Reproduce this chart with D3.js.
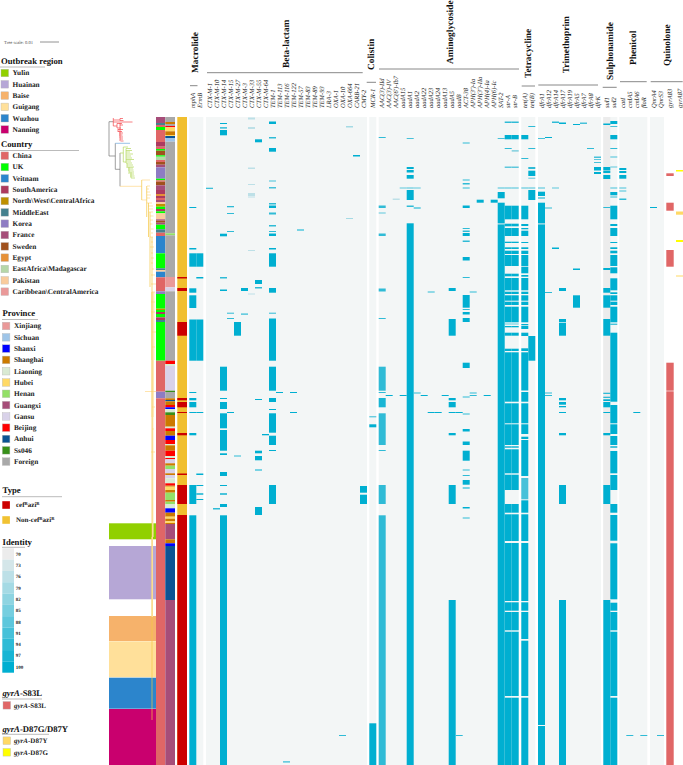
<!DOCTYPE html>
<html><head><meta charset="utf-8">
<script src="https://cdn.jsdelivr.net/npm/d3@7/dist/d3.min.js"></script>
<style>html,body{margin:0;padding:0;background:#fff}svg{display:block}text{font-family:"Liberation Serif",serif;text-rendering:geometricPrecision}</style>
</head><body><svg id="c" width="683" height="765"></svg>
<script>
// ---------- DATA: each gene = list of [firstRow,lastRow,(identity)] in tree order ----------
const mphA=[[90,91],[131,132.5],[136.3,149.7],[171.3,175.7],[178.3,191],[202.5,243.7],[275,276],[281,283.3],[285,290.3],[295,296],[316,318.3],[368,387],[398.3,648]];
const ErmB=[[136.3,149.7],[160,161.5],[202.5,243.7],[295,296],[356.5,358],[368,369],[376.3,377.7],[382,383]];
const CTXM1=[[70.7,72,92]],CTXM10=[[391,392.5,94]];
const CTXM14=[[6,7],[10.3,11.5],[13,18.3],[116.7,119.3],[160,161.5,94],[172.5,174],[249.7,273.7],[281,282],[285,292],[296.3,311.3],[313,333.7],[336.3,338],[355,359],[368,369],[376.3,377.7],[387,390],[398.3,648]];
const CTXM15=[[89,90.3,94],[96,97,94],[114,115,94],[195.7,196.7,94],[201,202,94],[295,296]];
const CTXM27=[[205,218.7],[338.5,339.5,94]];
const CTXM3=[[171,174],[196.5,197.7,94]];
const CTXM33=[[0.5,2.5,76],[10,12,76],[50.5,52,76],[67,68,76],[76,79,76],[79.5,80.5,76],[133,134,76],[176.5,177.5,76]];
const CTXM55=[[22.3,25.3],[163,167],[170,171.5,94],[282,283],[333.7,336.3],[339,343.3],[352.5,353.5],[390,398]];
const CTXM64=[[317,318.3]];
const TEM1=[[4.5,7],[20,21.5,94],[31,34.7],[63.5,64.5,91],[70,71.5,91],[86,87.5,94],[88.5,91],[95.5,97.5,94],[108,109.5,94],[114,115,94],[116.5,119],[131,132.5],[136.3,149.7],[171,175.7],[195.7,196.7,94],[201.5,243.7],[249.7,273.7],[281,285],[292,293],[296.3,315.7],[318.7,328],[333,334],[368,387]];
const TEM113=[[275,276]],TEM116=[[644.3,645.5,94]],TEM122=[[275,276],[295,296]],TEM57=[[112.5,113.5]];
const TEM83=[],TEM89=[],TEM93=[],LRA3=[],OXA1=[];
const OXA10=[[618,619,94]],OXA664=[[9,10.5,79],[101,102,79]],CARB21=[[38,39.5]],CMY2=[[369,375.7],[377.7,387]];
const MCR1=[[299.3,300.3,94],[307.3,310.3],[606.3,648]];
const AAC3IId=[[20,21,94],[88.5,91,94],[95.5,96.5,88],[116.5,119,94],[171.5,174.5,94],[201,202,94],[249.7,273.7,94],[275,276,94],[281,290.3,97],[296.3,328,94],[333,334,94],[368,387,94],[398.3,648,94]];
const AAC3IV=[[278,279]],AAC6Ib7=[[81.5,83,76]],aadA15=[[70.5,71.5,88],[278,279]];
const aadA1=[[21,22,91],[50,52],[53,55.5],[58,61.7],[70.5,71.5,91],[73,83],[88.5,90,94],[106.3,648]];
const aadA2=[[70.5,71.5,88],[90.5,91.5],[275.5,276.5,94]],aadA22=[[278,279]],aadA23=[[174.5,175.5,94],[295,296]],aadA24=[[295,296]],aadA13=[[278,279]];
const aadA5=[[171,174],[202,218.7],[281,283.3],[285,290.3],[295,296],[316,318.3],[368,387],[483,648]];
const aadB=[[295,296],[618,619,94]];
const ACT38=[[25.5,26.5,94],[62.5,63.5,94],[66,67.5,94],[70.5,71.5,94],[88.5,91],[111,112,94],[113.5,115,94],[116,119],[123.5,125,94],[140,143.5],[160,161,94],[178,190.7],[192,193,94],[195,197.5],[201,205],[245.7,251],[279.5,280.5,94],[296.5,297.5,94],[312,314.5],[324.5,328],[333.7,343.7],[352.5,353.5,94],[358,359,94],[363,367.7],[370.5,371.5],[390,391.5],[400.5,401.5,94]];
const APH3Ia=[[174.5,175.5,94],[275.5,276.5,94],[278,279,94]],APH3IIa=[[82.7,85.7]],APH4Ia=[[278,279]],APH6Ic=[[82.7,85.7]];
const SAT2=[[21,22,91],[70.5,71.5,91],[75,81.3],[85.7,106],[106,107.5,82],[107.5,648]];
const strA=[[4.5,6,94],[18,22.3],[31,32,94],[49.5,51,88],[70.5,71.5,91],[88.7,102.3],[106.7,109.3],[111,119],[124.7,126],[130.3,132],[133.7,137],[138,149],[156.7,159.3],[161,173.3],[174.7,177],[178.3,183.7],[184.7,188],[189.7,205.3],[206.7,207.3],[209,210.3],[215.7,218.7],[231.7,234],[235.3,284.7],[286.3,306.3],[307.3,328],[329.3,330.7],[332.3,356.3],[357.7,373],[387,395.7],[397.3,424],[426,484],[485.3,493.7],[495,513.3],[514.7,579],[580.7,648]];
const strB=[[4.5,6,94],[18,22.3],[33,34.7,82],[49.5,51,88],[70.5,71.5,91],[88.7,102.3],[106.7,109.3],[111,119],[124.7,126],[130.3,132],[133.7,137],[138,149],[156.7,159.3],[161,173.3],[174.7,177],[178.3,183.7],[184.7,188],[189.7,205.3],[206.7,207.3],[209,210.3],[215.7,218.7],[231.7,234],[235.3,284.7],[286.3,306.3],[307.3,328],[329.3,330.7],[332.3,356.3],[357.7,373],[387,395.7],[397.3,424],[426,484],[485.3,493.7],[495,513.3],[514.7,579],[580.7,648]];
const tetA=[[18,22.3],[41,42,94],[70.5,71.5,91],[88.7,102.3],[107,109],[111,112.3],[113.7,119],[125,126],[130.3,132],[133.7,137],[138,149],[149.7,156.3],[158,159.7],[161,173.3],[174.7,177],[178.3,183.7],[184.7,188],[189.7,205.3],[207,208.3],[209,212],[215.7,219],[231.3,234],[235.3,273.5],[275,284.7],[286.3,306.3],[307.3,317],[319.7,322],[323,359],[361,382.3,91],[383.3,395.7],[397.3,424],[426,484],[485.3,493.7],[495,522],[523.7,579],[580.7,648]];
const tetB=[[9,10,94],[31,32,94],[50,52,94],[53.7,59],[60.7,61.7,88],[70.5,71.5,91],[73,83],[219,243.7]];
const dfrA1=[[21,22,91],[70.5,71.5,91],[74.7,79],[80.5,81.5],[85.7,106],[106,107.5,82],[107.5,608],[609,648]];
const dfrA12=[[20,21],[90.5,91.5,94],[175,176,94],[275.5,276.5,94],[278,279,94]];
const dfrA14=[[4.5,6,94],[70.5,71.5,88],[130.5,132]];
const dfrA17=[[5.5,7],[171,174],[202,205],[205.7,218.7],[281,283.3],[285,287.7],[289,290.3],[295,296],[316,318.3],[368,387],[483,648]];
const dfrA19=[],dfrA5=[[7,8],[151.5,153],[178.3,190.7]],dfrA7=[[5.5,7,91]],dfrA8=[[31,32,94]];
const dfrK=[[39.5,41,91],[42,43,88],[45,46,91],[50,53.5],[55,57]];
const sul1=[[0,483,70],[6.5,8],[50,53],[53.5,56],[58,62],[90,91,94],[151,153],[171,175.7],[178.3,190.7],[202,218.7],[275.7,277,94],[279.7,281,94],[282.3,284],[285,290.3],[295,296],[316,318.3],[368,387],[483,648]];
const sul2=[[4,7],[9,10,91],[18,22.3],[31,32,94],[39.5,40.5,91],[49.5,50.5,88],[70.5,71.5,91],[75,78.3],[79.5,80.5,94],[88.7,102.3],[107,109],[111,119],[125,126],[130.3,132],[133.7,136.3],[138,149],[150.3,156.3],[161.3,173.3],[175.3,177],[178.3,183.7],[184.7,188],[189.7,205.3],[206.7,207.7],[215.7,284.7],[288,306.3],[307.3,317],[319,328],[329.3,330.7],[334,356.3],[358,373],[387,395.7],[398,423.7],[426.3,482.3],[485.7,493.7],[495,513.3],[514.7,579],[580.7,648]];
const catI=[[51,53],[54,56],[58,61.7],[70.5,71.5,91],[73.5,74.5,91],[81.5,83,94]],cmlA5=[[618,619,94]],cmlA6=[[295,296]],floR=[[618,619,94]];
const QnrA4=[[90,91]],QnrS3=[[618,619,94]];
const gyrA83=[[56.3,59],[85.7,93.7],[133,149.7],[245.7,273.7],[274.3,648]];
const gyrA87G=[[53,54.5],[123,125]],gyrA87Y=[[94.5,97.7],[158.5,159.5]];

const typeRed=[[160,161.5],[171,174],[205,218.7],[281,283.3],[285,290.3],[295,296],[316,318.3],[356.5,358],[368,387],[398,648]];
const regionBlocks=[[406.3,422.3,'Yulin'],[429,482.3,'Huainan'],[499,524,'Baise'],[524.3,560.3,'Guigang'],[560.7,591.7,'Wuzhou'],[592,648,'Nanning']];
const countryRuns=[[6,'France'],[8,'MiddleEast'],[10,'China'],[13,'UK'],[25,'China'],[29.7,'SouthAmerica'],[32,'China'],[33.7,'UK'],[38.3,'Sweden'],[39.7,'UK'],[43,'EastAfrica\\Madagascar'],[45,'China'],[47.7,'Sweden'],[50.3,'France'],[61.7,'Korea'],[63.3,'UK'],[64.7,'China'],[68.3,'Sweden'],[73,'France'],[77,'SouthAmerica'],[79,'Egypt'],[81,'SouthAmerica'],[83,'China'],[85,'France'],[87,'Pakistan'],[89.7,'North\\West\\CentralAfrica'],[92,'UK'],[94.3,'SouthAmerica'],[96.3,'UK'],[102.3,'Pakistan'],[103.7,'France'],[105.7,'Sweden'],[107.7,'France'],[112.3,'UK'],[115.7,'MiddleEast'],[119,'China'],[136.3,'Veitnam'],[151.3,'UK'],[153,'MiddleEast'],[154.7,'Pakistan'],[160.3,'Veitnam'],[174.3,'China'],[177,'Korea'],[191.7,'UK'],[193,'North\\West\\CentralAfrica'],[195,'UK'],[197,'SouthAmerica'],[200.3,'UK'],[203,'SouthAmerica'],[205,'MiddleEast'],[243.7,'UK'],[274.7,'China'],[281.3,'Korea'],[648,'China']];
const provinceRuns=[[5,'Foreign'],[7,'Shanghai'],[9,'Foreign'],[10.3,'Beijing'],[14.3,'Hubei'],[18,'Shanghai'],[19,'Hubei'],[21,'Anhui'],[24.7,'Sichuan'],[116.3,'Foreign'],[118.3,'Henan'],[160,'Foreign'],[170.3,'Xinjiang'],[174.3,'Gansu'],[243.7,'Foreign'],[247,'Beijing'],[249,'Liaoning'],[273.7,'Gansu'],[275,'Ss046'],[281.3,'Foreign'],[283,'Shanghai'],[284.3,'Anhui'],[288,'Shanghai'],[290.3,'Beijing'],[292,'Shanxi'],[295.3,'Liaoning'],[298,'Ss046'],[309.7,'Shanghai'],[311.3,'Liaoning'],[314,'Beijing'],[318.7,'Shanghai'],[323,'Shanxi'],[327,'Beijing'],[328.3,'Liaoning'],[333.7,'Shanghai'],[339,'Beijing'],[341,'Liaoning'],[342.3,'Beijing'],[346.3,'Gansu'],[348.7,'Shanghai'],[352,'Henan'],[356.3,'Gansu'],[358,'Shanghai'],[361.3,'Gansu'],[366.3,'Liaoning'],[368.7,'Beijing'],[369.7,'Shanghai'],[373,'Hubei'],[375.7,'Shanghai'],[383,'Henan'],[384.7,'Shanghai'],[387,'Henan'],[391.3,'Liaoning'],[395.7,'Shanxi'],[399.7,'Shanghai'],[401.7,'Hubei'],[404.3,'Shanghai'],[406,'Hubei'],[407,'Shanghai'],[422.3,'Guangxi'],[426.3,'Shanghai'],[429,'Shanxi'],[483,'Anhui'],[648,'Guangxi']];

const regionNames=['Yulin','Huainan','Baise','Guigang','Wuzhou','Nanning'];
const regionColors=['#91d000','#b6a7d6','#f6b26b','#ffe09a','#2c85cc','#c9006e'];
const countryNames=['China','UK','Veitnam','SouthAmerica','North\\West\\CentralAfrica','MiddleEast','Korea','France','Sweden','Egypt','EastAfrica\\Madagascar','Pakistan','Caribbean\\CentralAmerica'];
const countryColors=['#e06666','#00ff00','#2b85cd','#ad3a5f','#bf9000','#45818e','#8e7cc3','#a64d79','#a0511d','#e69138','#b6d7a8','#f9cb9c','#ea9999'];
const provinceNames=['Xinjiang','Sichuan','Shanxi','Shanghai','Liaoning','Hubei','Henan','Guangxi','Gansu','Beijing','Anhui','Ss046','Foreign'];
const provinceColors=['#ea9999','#9fc5e8','#0000ff','#cc7a00','#d9ead3','#ffd966','#93e067','#a64d79','#d9d2e9','#ff0000','#0b5394','#38901a','#a9a9a9'];
const identityTicks=[70,73,76,79,82,85,88,91,94,97,100];

// Tree: horizontal branches [depth0,depth1,row], vertical [depth,row0,row1]
const treeRootH=[[0,4.3,4.7],[0,6.3,39],[6.3,11,52.3]];
const treeRootV=[[0,4.7,39],[6.3,26.3,52.3],[11,36,69.3]];
const treeBlueH=[[6.3,21,26.3]];
const treeRedH=[[4.3,23.5,5],[4.3,11,3],[11,14,1.5],[11,14.5,3.5],[4.3,8,9],[8,13,6.5],[8,12,11],[11,14,8],[9,14,12.5],[9,13,14.5],[10,14,16],[10,13.5,18],[10.5,14,20],[11,14,22],[11.5,14.5,24]];
const treeRedV=[[4.3,1,9],[11,1.5,3.5],[8,6.5,11],[11,6,24],[9,12,15]];
const treeGreenH=[[11,14.3,36],[14.3,19,30],[14.3,17,45],[17,22,31.5],[17,23,33.5],[17,21,35],[17,24,37],[17,22,39],[17,23,41],[17,25,42.5],[17,22,44],[17,23,46],[18,24,48],[18,25,50],[19,24,51],[19,24.5,53],[20,25,55],[21,25,57],[21,25.5,59],[22,26,61]];
const treeGreenV=[[14.3,30,45],[17,31.5,46],[18,46,51],[20,50,57],[22,55,61]];
const treeYellowH=[[11,32.7,69.3],[32.7,41,63],[32.7,37.7,83],[38,41,69],[38,40,72],[37.7,41,75],[38,42,78],[38,41,81],[37.7,43,86],[39,44,89],[40,44,92],[40,44,95],[41,44.5,99],[41,44,103],[41,43.5,107],[42,44.5,112],[42,44,116],[41,44,120],[42,44,125],[41,45,130],[42,44,136],[42,45,141],[42,44,146],[43,45,152],[42,46,158],[42,47,167],[43,46,175],[42,46,185],[42,46,195],[43,47,215],[43,46,230],[36,47,274.5],[43,46,290],[43,45,312],[42,46,335]];
const treeYellowV=[[32.7,63,83],[37.7,69,100],[39.5,86,120],[41,95,170],[43,120,603]];
const treeYellowPale=[[42,45.5,175,243],[42.5,45,243,300],[43,44.5,300,420],[42.5,44,420,500]];

// Layout of the gene groups
const geneGroups=[
 {title:'Macrolide',genes:[['mphA',mphA],['ErmB',ErmB]],x0:189.3},
 {title:'Beta-lactam',genes:[['CTX-M-1',CTXM1],['CTX-M-10',CTXM10],['CTX-M-14',CTXM14],['CTX-M-15',CTXM15],['CTX-M-27',CTXM27],['CTX-M-3',CTXM3],['CTX-M-33',CTXM33],['CTX-M-55',CTXM55],['CTX-M-64',CTXM64],['TEM-1',TEM1],['TEM-113',TEM113],['TEM-116',TEM116],['TEM-122',TEM122],['TEM-57',TEM57],['TEM-83',TEM83],['TEM-89',TEM89],['TEM-93',TEM93],['LRA-3',LRA3],['OXA-1',OXA1],['OXA-10',OXA10],['OXA-664',OXA664],['CARB-21',CARB21],['CMY-2',CMY2]],x0:206},
 {title:'Colistin',genes:[['MCR-1',MCR1]],x0:369.3},
 {title:'Aminoglycoside',genes:[['AAC(3)-IId',AAC3IId],['AAC(3)-IV',AAC3IV],["AAC(6')-Ib7",AAC6Ib7],['aadA15',aadA15],['aadA1',aadA1],['aadA2',aadA2],['aadA22',aadA22],['aadA23',aadA23],['aadA24',aadA24],['aadA13',aadA13],['aadA5',aadA5],['aadB',aadB],['ACT-38',ACT38],["APH(3')-Ia",APH3Ia],["APH(3')-IIa",APH3IIa],['APH(4)-Ia',APH4Ia],['APH(6)-Ic',APH6Ic],['SAT-2',SAT2],['str-A',strA],['str-B',strB]],x0:378.7},
 {title:'Tetracycline',genes:[['tet(A)',tetA],['tet(B)',tetB]],x0:521.3},
 {title:'Trimethoprim',genes:[['dfrA1',dfrA1],['dfrA12',dfrA12],['dfrA14',dfrA14],['dfrA17',dfrA17],['dfrA19',dfrA19],['dfrA5',dfrA5],['dfrA7',dfrA7],['dfrA8',dfrA8],['dfrK',dfrK]],x0:538},
 {title:'Sulphonamide',genes:[['sul1',sul1],['sul2',sul2]],x0:603.3},
 {title:'Phenicol',genes:[['catI',catI],['cmlA5',cmlA5],['cmlA6',cmlA6],['floR',floR]],x0:619.3},
 {title:'Quinolone',genes:[['QnrA4',QnrA4],['QnrS3',QnrS3]],x0:650}
];
// header placement: [title x, title bottom y, line y, line x0, line x1]
const headerLayout=[[195,73,85.7,190,197.5],[286,68,72.7,207,362.7],[370.7,70,82.3,366.7,376],[450,64,69,379,519],[527.7,78,86,521.7,535],[566,73.3,85,538.3,598],[610,80,87.3,602.7,616.7],[633,65,81.7,620,646.7],[666.7,66,81.7,650.7,682.7]];

const svg=d3.select('#c');
const color=d3.scaleLinear().domain([70,100]).range(['#ececec','#00afd1']);
const y=d3.scaleLinear().domain([0,648]).range([117,765]);
const treeX=d3.scaleLinear().domain([0,47]).range([109,156]);
const regionC=d3.scaleOrdinal(regionNames,regionColors),countryC=d3.scaleOrdinal(countryNames,countryColors),provinceC=d3.scaleOrdinal(provinceNames,provinceColors);
const CELL=7;

// region strip
svg.append('g').selectAll('rect').data(regionBlocks).join('rect').attr('x',109).attr('width',47)
  .attr('y',d=>y(d[0])).attr('height',d=>y(d[1])-y(d[0])).attr('fill',d=>regionC(d[2]));

function runs(data,scale,x,w){let p=0;data.forEach(([e,n])=>{svg.append('rect').attr('x',x).attr('width',w).attr('y',y(p)).attr('height',y(e)-y(p)).attr('fill',scale(n));p=e;});}
runs(countryRuns,countryC,156,9.3);
runs(provinceRuns,provinceC,165.3,9.7);
// type strip
svg.append('rect').attr('x',177.3).attr('width',9.7).attr('y',y(0)).attr('height',y(648)-y(0)).attr('fill','#f1bf2f');
svg.append('g').selectAll('rect').data(typeRed).join('rect').attr('x',177.3).attr('width',9.7)
  .attr('y',d=>y(d[0])).attr('height',d=>y(d[1])-y(d[0])).attr('fill','#cc0000');

// tree
const tg=svg.append('g').attr('fill','none');
function hSeg(data,col,w){tg.append('g').attr('stroke',col).attr('stroke-width',w).selectAll('line').data(data).join('line').attr('x1',d=>treeX(d[0])).attr('x2',d=>treeX(d[1])).attr('y1',d=>y(d[2])).attr('y2',d=>y(d[2]));}
function vSeg(data,col,w){tg.append('g').attr('stroke',col).attr('stroke-width',w).selectAll('line').data(data).join('line').attr('x1',d=>treeX(d[0])).attr('x2',d=>treeX(d[0])).attr('y1',d=>y(d[1])).attr('y2',d=>y(d[2]));}
tg.append('g').selectAll('rect').data(treeYellowPale).join('rect').attr('fill','#fde9bd').attr('x',d=>treeX(d[0])).attr('width',d=>treeX(d[1])-treeX(d[0])).attr('y',d=>y(d[2])).attr('height',d=>y(d[3])-y(d[2]));
hSeg(treeRootH,'#777',.7);vSeg(treeRootV,'#777',.7);hSeg(treeBlueH,'#6fa8dc',.7);
hSeg(treeRedH,'#f4484e',.7);vSeg(treeRedV,'#f4484e',.7);
hSeg(treeGreenH,'#b5d85e',.7);vSeg(treeGreenV,'#b5d85e',.7);
hSeg(treeYellowH,'#ffd88a',.7);vSeg(treeYellowV,'#f5c542',.7);

// heat tracks & headers
geneGroups.forEach((g,i)=>{
  const names=g.genes.map(d=>d[0]);
  const x=d3.scaleBand().domain(names).range([g.x0,g.x0+CELL*names.length]);
  svg.append('rect').attr('x',x.range()[0]).attr('width',x.range()[1]-x.range()[0]).attr('y',y(0)).attr('height',y(648)-y(0)).attr('fill','#f3f6f6');
  g.genes.forEach(([n,segs])=>{
    svg.append('g').selectAll('rect').data(segs).join('rect').attr('x',x(n)).attr('width',x.bandwidth())
      .attr('y',d=>y(d[0])).attr('height',d=>y(d[1])-y(d[0])).attr('fill',d=>color(d[2]===undefined?100:d[2]));
    svg.append('text').attr('transform',`translate(${x(n)+CELL/2+2.1},108) rotate(-90)`).attr('font-style','italic').attr('font-size',6.5).attr('fill','#222').text(n);
  });
  const h=headerLayout[i];
  svg.append('line').attr('x1',h[3]).attr('x2',h[4]).attr('y1',h[2]).attr('y2',h[2]).attr('stroke','#888').attr('stroke-width',1);
  svg.append('text').attr('transform',`translate(${h[0]+3.2},${h[1]}) rotate(-90)`).attr('font-size',9.4).attr('font-weight','bold').attr('fill','#111').text(g.title);
});
// gyrA columns (no background in the reference) with labels
const gyrX=d3.scaleOrdinal(['gyrA83','gyrA87'],[666.3,676]);
svg.append('g').selectAll('rect').data(gyrA83).join('rect').attr('x',gyrX('gyrA83')).attr('width',7.4).attr('y',d=>y(d[0])).attr('height',d=>y(d[1])-y(d[0])).attr('fill','#e06666');
svg.append('g').selectAll('rect').data(gyrA87G).join('rect').attr('x',gyrX('gyrA87')).attr('width',7).attr('y',d=>y(d[0])).attr('height',d=>y(d[1])-y(d[0])).attr('fill','#ffff00');
svg.append('g').selectAll('rect').data(gyrA87Y).join('rect').attr('x',gyrX('gyrA87')).attr('width',7).attr('y',d=>y(d[0])).attr('height',d=>y(d[1])-y(d[0])).attr('fill','#ffd966');
['gyrA83','gyrA87'].forEach(n=>svg.append('text').attr('transform',`translate(${gyrX(n)+5.6},108) rotate(-90)`).attr('font-style','italic').attr('font-size',6.5).attr('fill','#222').text(n));

// legends
svg.append('text').attr('x',4).attr('y',43.6).attr('font-size',4.6).attr('fill','#555').text('Tree scale: 0.01');
svg.append('line').attr('x1',40).attr('x2',59).attr('y1',42).attr('y2',42).attr('stroke','#777').attr('stroke-width',.8);
function heading(t,x,cy,lx0,lx1,ly,fs){const s=svg.append('text').attr('x',x).attr('y',cy+3).attr('font-size',fs||8.7).attr('font-weight','bold').attr('fill','#111');
  if(t.startsWith('gyrA')){s.append('tspan').attr('font-style','italic').text('gyrA');s.append('tspan').text(t.slice(4));}else s.text(t);
  svg.append('line').attr('x1',lx0).attr('x2',lx1).attr('y1',ly).attr('y2',ly).attr('stroke','#aaa').attr('stroke-width',.8);}
function legend(names,scale,sx,tx,cy0,step){names.forEach((n,i)=>{const c=cy0+i*step;
  svg.append('rect').attr('x',sx).attr('y',c-3.8).attr('width',7.6).attr('height',7.6).attr('fill',scale(n)).attr('stroke','#bbb').attr('stroke-width',.4);
  svg.append('text').attr('x',tx).attr('y',c+2.4).attr('font-size',7.3).attr('font-weight','bold').attr('fill','#222').text(n);});}
heading('Outbreak region',1,61,0,45,67);legend(regionNames,regionC,1,12.5,73,11.3);
heading('Country',1,144,0,79,150.5);legend(countryNames,countryC,1,12.5,155.7,11.33);
heading('Province',2.5,313,2,38,319.5);legend(provinceNames,provinceC,2.3,14,326,11.3);
heading('Type',2.5,490,2,62,496.7);
[['cef','R','azi','R','#cc0000',505],['Non-cef','R','azi','R','#f1c232',520]].forEach(d=>{
  svg.append('rect').attr('x',2.3).attr('y',d[5]-3.8).attr('width',7.6).attr('height',7.6).attr('fill',d[4]);
  const t=svg.append('text').attr('x',16).attr('y',d[5]+2.2).attr('font-size',7).attr('font-weight','bold').attr('fill','#222');
  t.append('tspan').text(d[0]);t.append('tspan').attr('font-size',4.5).attr('dy',-2).text(d[1]);t.append('tspan').attr('dy',2).text(d[2]);t.append('tspan').attr('font-size',4.5).attr('dy',-2).text(d[3]);});
heading('Identity',2.5,541.7,2,25,547.3);
const idY=d3.scaleBand().domain(identityTicks).range([548.3,672.7]);
identityTicks.forEach(v=>{svg.append('rect').attr('x',2.3).attr('width',11.7).attr('y',idY(v)).attr('height',idY.bandwidth()).attr('fill',color(v));
  svg.append('text').attr('x',15.7).attr('y',idY(v)+idY.bandwidth()/2+1.7).attr('font-size',5).attr('font-weight','bold').attr('fill','#222').text(v);});
heading('gyrA-S83L',2.5,693,2,42,699);
heading('gyrA-D87G/D87Y',2.5,729,2,49,734.3);
[['-S83L','#e06666',705.3],['-D87Y','#ffd966',740.7],['-D87G','#ffff00',752.3]].forEach(d=>{
  svg.append('rect').attr('x',3).attr('y',d[2]-3.8).attr('width',7.6).attr('height',7.6).attr('fill',d[1]).attr('stroke','#bbb').attr('stroke-width',.4);
  const t=svg.append('text').attr('x',14).attr('y',d[2]+2.4).attr('font-size',7).attr('font-weight','bold').attr('fill','#222');
  t.append('tspan').attr('font-style','italic').text('gyrA');t.append('tspan').text(d[0]);});
</script></body></html>
